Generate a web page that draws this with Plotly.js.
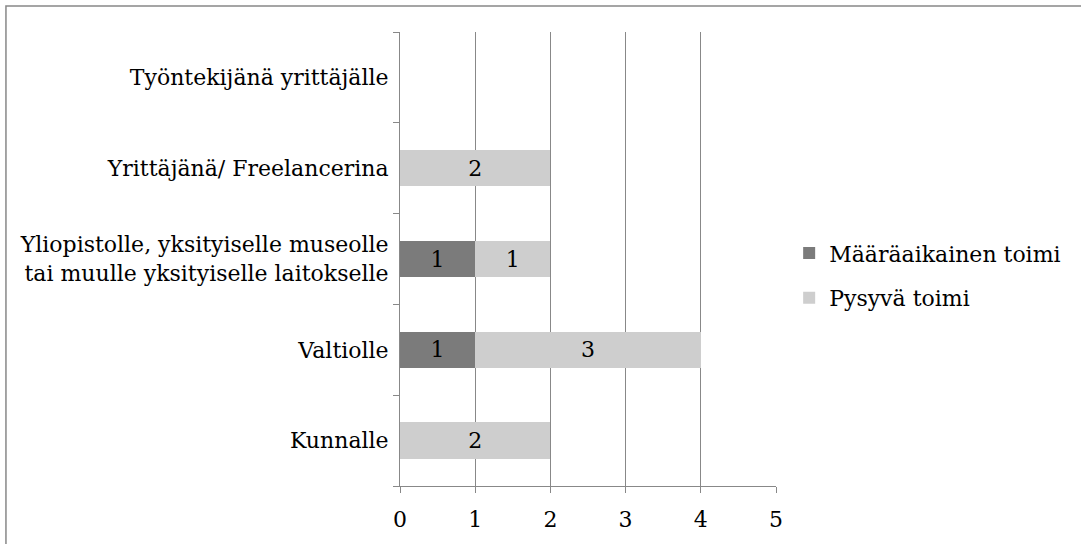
<!DOCTYPE html>
<html>
<head>
<meta charset="utf-8">
<script src="https://cdn.plot.ly/plotly-3.0.1.min.js"></script>
<style>html,body{margin:0;padding:0;background:#fff;}</style>
</head>
<body>
<div id="chart" style="width:1081px;height:544px;"></div>
<script>
const categories = [
  "Kunnalle",
  "Valtiolle",
  "Yliopistolle, yksityiselle museolle<br>tai muulle yksityiselle laitokselle",
  "Yrittäjänä/ Freelancerina",
  "Työntekijänä yrittäjälle"
];
const seriesNames = ["Määräaikainen toimi", "Pysyvä toimi"];
const maaraaikainen = [0, 1, 1, 0, 0];
const pysyva = [2, 3, 1, 2, 0];
const xTicks = [0, 1, 2, 3, 4, 5];

const FONT = "DejaVu Serif";
const fs = 22;

function mk(name, vals, color, group) {
  return {
    type: "bar",
    orientation: "h",
    name: name,
    y: categories,
    x: vals,
    text: vals.map(v => v ? String(v) : ""),
    textposition: "inside",
    insidetextanchor: "middle",
    textfont: {family: FONT, size: fs, color: "#000"},
    marker: {color: color, line: {width: 0}},
    legendgroup: group,
    hoverinfo: "x+name"
  };
}

const data = [
  mk(seriesNames[0], maaraaikainen, "#7b7b7b", "a"),
  mk(seriesNames[1], pysyva, "#cecece", "b")
];

const layout = {
  width: 1081,
  height: 544,
  margin: {l: 400, r: 305, t: 32, b: 58, pad: 0},
  paper_bgcolor: "#fff",
  plot_bgcolor: "#fff",
  barmode: "stack",
  bargap: 0.6,
  font: {family: FONT, size: fs, color: "#000"},
  showlegend: true,
  legend: {
    x: 1.035, xanchor: "left", y: 0.463, yanchor: "middle",
    traceorder: "grouped", tracegroupgap: 13,
    font: {family: FONT, size: fs, color: "#000"},
    itemwidth: 30
  },
  xaxis: {
    range: [0, 5],
    tickvals: xTicks,
    ticks: "outside", ticklen: 6, tickcolor: "#888",
    showgrid: true, gridcolor: "#888", gridwidth: 1,
    showline: true, linecolor: "#888", linewidth: 1,
    zeroline: false,
    ticklabelstandoff: 8,
    tickfont: {family: FONT, size: fs},
    fixedrange: true
  },
  yaxis: {
    type: "category",
    categoryorder: "array",
    categoryarray: categories,
    tickson: "boundaries",
    ticks: "outside", ticklen: 6, tickcolor: "#888",
    showline: true, linecolor: "#888", linewidth: 1,
    showgrid: false,
    ticklabelstandoff: 6,
    tickfont: {family: FONT, size: fs},
    fixedrange: true
  },
  shapes: [{
    type: "rect", xref: "paper", yref: "paper",
    x0: -1.048, x1: 3.0, y0: -0.5, y1: 1.0573,
    line: {color: "#888", width: 1.5}, fillcolor: "rgba(0,0,0,0)", layer: "below"
  }]
};

Plotly.newPlot("chart", data, layout, {displayModeBar: false, staticPlot: true});
</script>
</body>
</html>
